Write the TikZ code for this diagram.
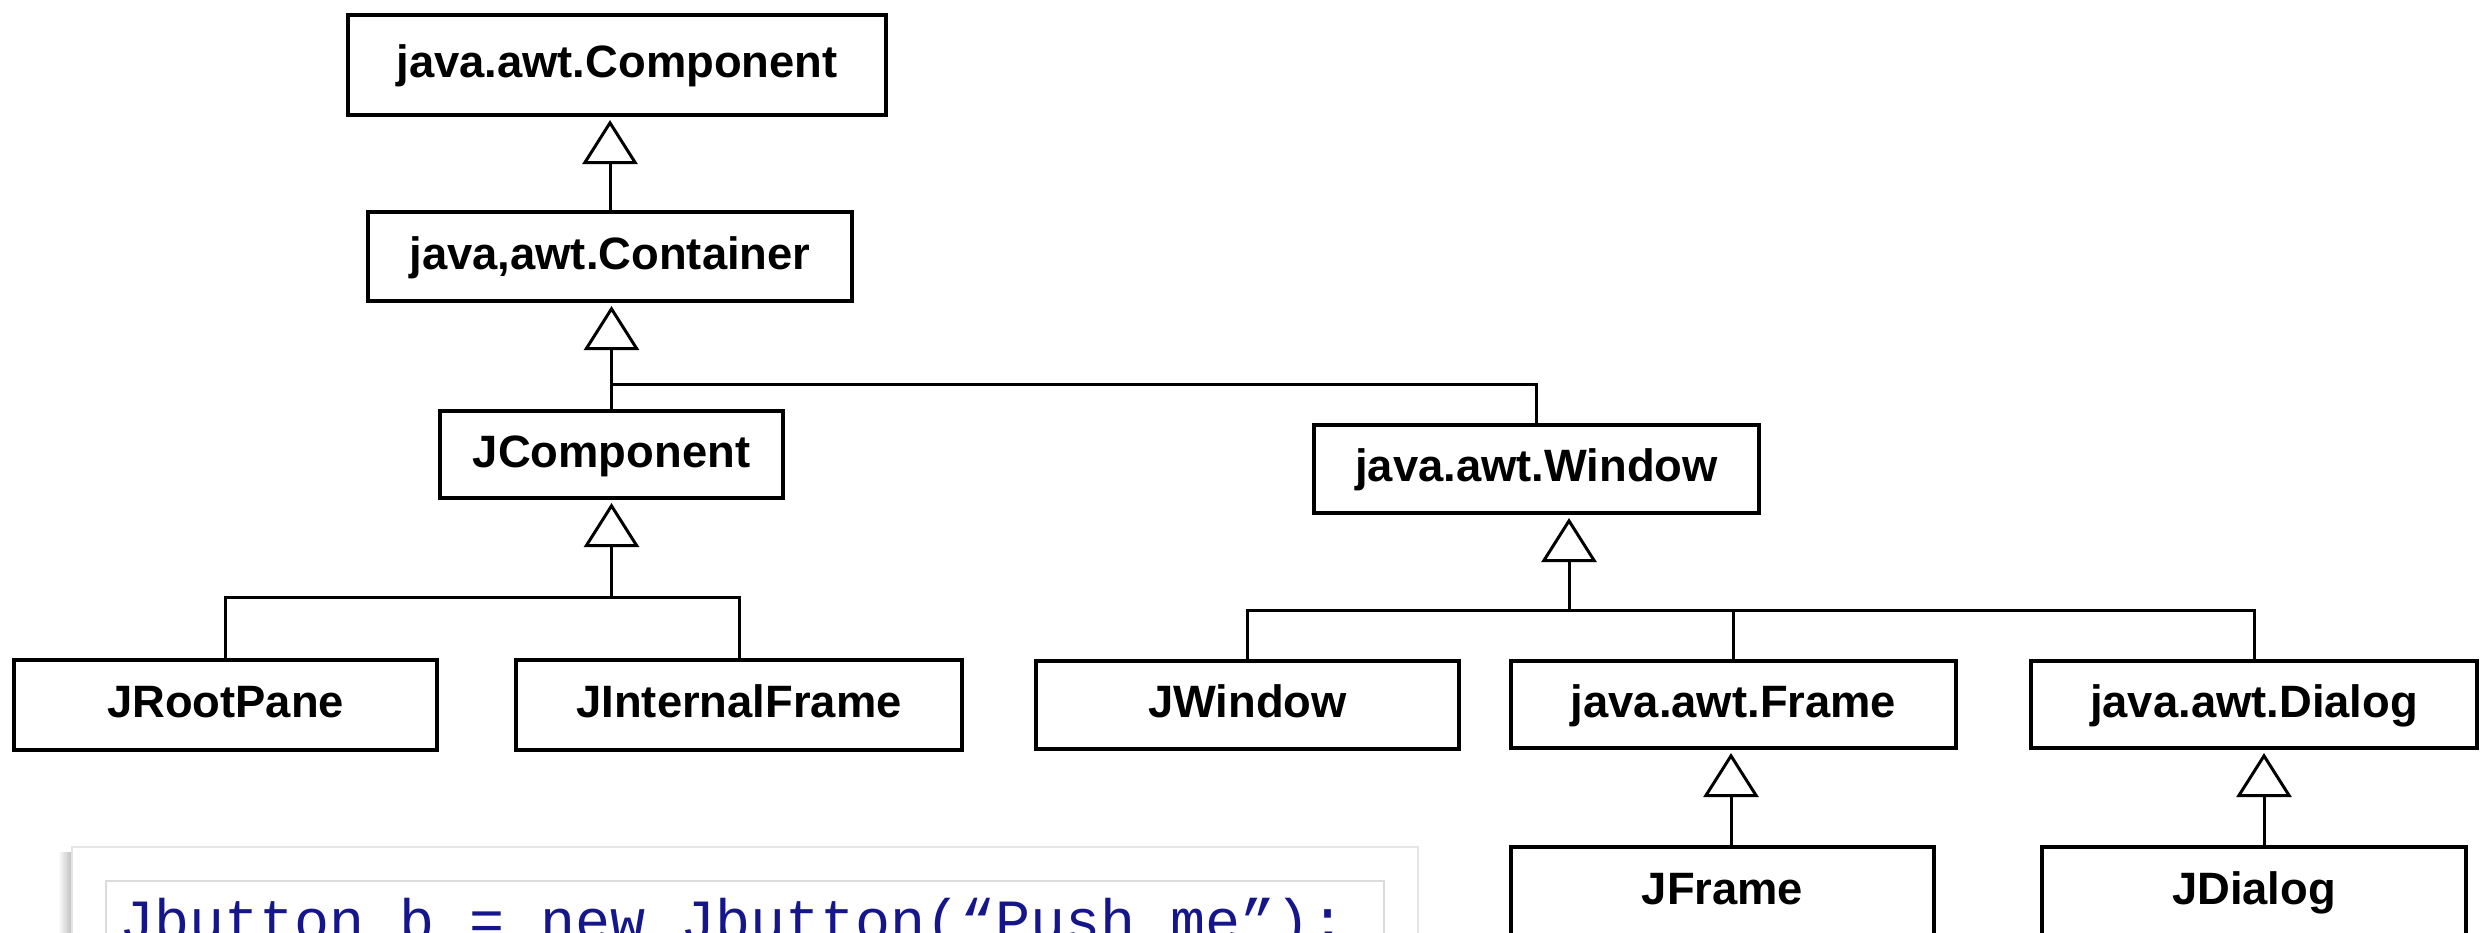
\documentclass[tikz,border=0pt]{standalone}
\usepackage{fontspec}
\newfontfamily\boxfont{Liberation Sans}
\newfontfamily\codefont{Liberation Mono}
\usetikzlibrary{arrows.meta,calc}
\definecolor{codeblue}{RGB}{22,22,140}
\begin{document}
\begin{tikzpicture}[x=0.01cm,y=-0.01cm,
  cls/.style={draw=black, line width=1.1pt, fill=white, inner sep=0pt, outer sep=0pt,
    font=\boxfont\bfseries\fontsize{12.9pt}{15pt}\selectfont,
    text height=0.716em, text depth=0pt, align=center},
  conn/.style={draw=black, line width=0.85pt},
  inh/.style={conn, -{Triangle[open, length=0.44cm, width=0.55cm]}, shorten >=0.05cm}
]
\useasboundingbox (0,0) rectangle (2490,933);
\clip (0,0) rectangle (2490,933);

% code box
\shade[left color=white, right color=black!28] (58,852) rectangle (73,940);
\draw[draw=black!10, fill=white] (72,847) rectangle (1418,945);
\draw[draw=black!14, line width=0.6pt, fill=white] (106,881) rectangle (1384,945);
\node[anchor=base west, inner sep=0pt, text=codeblue,
  font=\codefont\fontsize{16.6pt}{18pt}\selectfont] (code) at (119,940)
  {Jbutton b = new Jbutton(“Push me”);};

% class boxes
\node[cls, minimum width=5.38cm, minimum height=1.00cm] (comp)   at (617,65)    {java.awt.Component};
\node[cls, minimum width=4.84cm, minimum height=0.89cm] (cont)   at (610,256.5) {java,awt.Container};
\node[cls, minimum width=3.43cm, minimum height=0.87cm] (jcomp)  at (611.5,454.5) {JComponent};
\node[cls, minimum width=4.45cm, minimum height=0.88cm] (win)    at (1536.5,469) {java.awt.Window};
\node[cls, minimum width=4.23cm, minimum height=0.90cm] (jroot)  at (225.5,705) {JRootPane};
\node[cls, minimum width=4.46cm, minimum height=0.90cm] (jif)    at (739,705)   {JInternalFrame};
\node[cls, minimum width=4.23cm, minimum height=0.88cm] (jwin)   at (1247.5,705) {JWindow};
\node[cls, minimum width=4.45cm, minimum height=0.87cm] (frame)  at (1733.5,704.5) {java.awt.Frame};
\node[cls, minimum width=4.46cm, minimum height=0.87cm] (dialog) at (2254,704.5) {java.awt.Dialog};
\node[cls, minimum width=4.23cm, minimum height=0.90cm] (jframe) at (1722.5,892) {JFrame};
\node[cls, minimum width=4.24cm, minimum height=0.90cm] (jdialog) at (2254,892) {JDialog};

% helper coordinates
\coordinate (wa) at ($(win.south)+(32.5,0)$);
\coordinate (da) at ($(dialog.south)+(10,0)$);
\coordinate (fa) at ($(frame.south)+(-2.5,0)$);

% inheritance connectors
\draw[inh] (cont.north) -- (cont.north |- comp.south);
\draw[inh] (jcomp.north) -- (jcomp.north |- cont.south);
\draw[conn] (win.north) |- (jcomp.north |- 0,384);

\draw[inh] (jroot.north) |- (jcomp.south |- 0,597) -- (jcomp.south);
\draw[conn] (jif.north) |- (jcomp.south |- 0,597);

\draw[inh] (jwin.north) |- (wa |- 0,610) -- (wa);
\draw[conn] (frame.north) |- (wa |- 0,610);
\draw[conn] (dialog.north) |- (wa |- 0,610);

\draw[inh] (fa |- jframe.north) -- (fa);
\draw[inh] (da |- jdialog.north) -- (da);
\end{tikzpicture}
\end{document}
